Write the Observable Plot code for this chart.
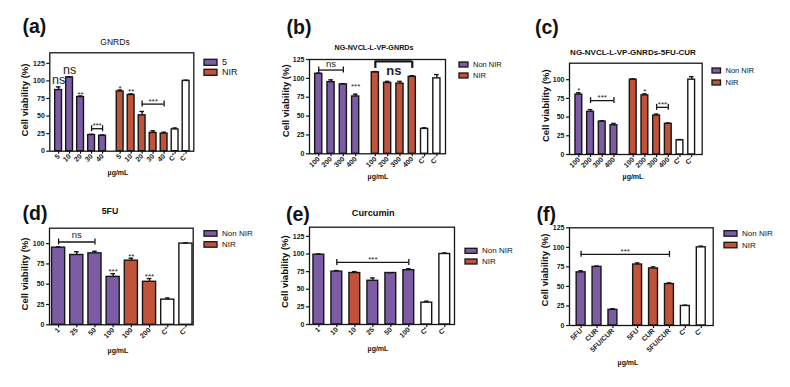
<!DOCTYPE html>
<html>
<head>
<meta charset="utf-8">
<script src="https://cdn.jsdelivr.net/npm/d3@7"></script>
<script src="https://cdn.jsdelivr.net/npm/@observablehq/plot@0.6"></script>
<style>
  html, body { margin: 0; padding: 0; background: #fff; }
  #fig { position: relative; width: 790px; height: 387px; overflow: hidden; }
  #fig svg { position: absolute; overflow: visible; }
</style>
</head>
<body>
<div id="fig"></div>
<script>
// ---------------- data ----------------
// (a) GNRDs
const aLabels = ["5", "10", "20", "30", "40", "5", "10", "20", "30", "40", "C⁺", "C⁻"];
const aSeries = ["Non NIR", "Non NIR", "Non NIR", "Non NIR", "Non NIR", "NIR", "NIR", "NIR", "NIR", "NIR", "Control", "Control"];
const aValues = [87, 105, 77, 23, 22, 85, 80, 51, 26, 25, 31, 100];
const aErrors = [4.5, 1, 1.5, 1, 1, 2, 1.5, 5.5, 3, 2, 2, 1];
const aStars = [{bar: 0, text: "ns"}, {bar: 1, text: "ns"}, {bar: 2, text: "**"}, {bar: 5, text: "*"}, {bar: 6, text: "**"}];
const aBrackets = [{from: 3, to: 4, level: 32, text: "***"}, {from: 7, to: 9, level: 67, text: "***"}];

// (b) NG-NVCL-L-VP-GNRDs
const bLabels = ["100", "200", "300", "400", "100", "200", "300", "400", "C⁺", "C⁻"];
const bSeries = ["Non NIR", "Non NIR", "Non NIR", "Non NIR", "NIR", "NIR", "NIR", "NIR", "Control", "Control"];
const bValues = [106, 95, 92, 76, 108, 94, 93, 102, 33, 100];
const bErrors = [1, 3, 1, 3, 1, 2, 3, 1.5, 1.5, 5];
const bStars = [{bar: 3, text: "***"}];
const bBrackets = [{from: 0, to: 2, level: 111, text: "ns"}, {from: 4, to: 7, level: 122.5, text: "ns"}];

// (c) NG-NVCL-L-VP-GNRDs-5FU-CUR
const cLabels = ["100", "200", "300", "400", "100", "200", "300", "400", "C⁺", "C⁻"];
const cSeries = ["Non NIR", "Non NIR", "Non NIR", "Non NIR", "NIR", "NIR", "NIR", "NIR", "Control", "Control"];
const cValues = [80, 57, 44, 39, 100, 79, 52, 41, 19, 100];
const cErrors = [2.5, 3, 1, 2.5, 1, 2, 2, 1, 1, 4];
const cStars = [{bar: 0, text: "*"}, {bar: 5, text: "*"}];
const cBrackets = [{from: 1, to: 3, level: 72, text: "***"}, {from: 6, to: 7, level: 63, text: "***"}];

// (d) 5FU
const dLabels = ["1", "25", "50", "100", "100", "200", "C⁺", "C⁻"];
const dSeries = ["Non NIR", "Non NIR", "Non NIR", "Non NIR", "NIR", "NIR", "Control", "Control"];
const dValues = [95, 86, 88, 59, 79, 53, 31, 100];
const dErrors = [1, 4, 2.5, 4, 3, 4, 2, 1];
const dStars = [{bar: 3, text: "***"}, {bar: 4, text: "**"}, {bar: 5, text: "***"}];
const dBrackets = [{from: 0, to: 2, level: 102, text: "ns"}];

// (e) Curcumin
const eLabels = ["1", "10", "10", "25", "50", "100", "C⁺", "C⁻"];
const eSeries = ["Non NIR", "Non NIR", "NIR", "Non NIR", "Non NIR", "Non NIR", "Control", "Control"];
const eValues = [99, 75, 73, 62, 73, 77, 31, 100];
const eErrors = [1, 1.5, 2, 4, 0.5, 2, 2, 1.5];
const eStars = [];
const eBrackets = [{from: 1, to: 5, level: 88, text: "***"}];

// (f) combinations
const fLabels = ["5FU", "CUR", "5FU/CUR", "5FU", "CUR", "5FU/CUR", "C⁺", "C⁻"];
const fSeries = ["Non NIR", "Non NIR", "Non NIR", "NIR", "NIR", "NIR", "Control", "Control"];
const fValues = [68, 75, 20, 78, 73, 53, 25, 100];
const fErrors = [2, 1, 1.5, 2, 2, 1.5, 1, 1.5];
const fStars = [];
const fBrackets = [{from: 0, to: 5, level: 91, text: "***"}];

// ---------------- look ----------------
const FONT = '"Liberation Sans", Arial, Helvetica, sans-serif';
const INK = "#161616";
const PURPLE = "#7d5ca6";
const RED = "#c1533b";
const colorScale = {domain: ["Non NIR", "NIR", "Control"], range: [PURPLE, RED, "#ffffff"]};

const star = {fontSize: 8, dy: -2};
const nsBig = {fontSize: 12.5, dy: -7};
const bracketStar = {fontSize: 8, dy: -3};
const bracketNs = {fontSize: 9.5, dy: -6};

// frame = [left, right, top, bottom] in page pixels; box = [x, y, width, height] of the svg
const panels = [
  {data: {labels: aLabels, series: aSeries, values: aValues, errors: aErrors, stars: aStars, brackets: aBrackets},
   box: [0, 0, 205, 190], frame: [49.3, 193.3, 52.3, 150.7], yMax: 140, yTicks: [0, 25, 50, 75, 100, 125],
   xDomain: [-0.8, 12.3], breakAt: 5, gap: 0.6, barHalf: 0.31,
   starStyles: [nsBig, nsBig, star, star, star], bracketStyles: [bracketStar, bracketStar]},
  {data: {labels: bLabels, series: bSeries, values: bValues, errors: bErrors, stars: bStars, brackets: bBrackets},
   box: [262, 0, 190, 190], frame: [309, 445, 59, 153.3], yMax: 125, yTicks: [0, 25, 50, 75, 100, 125],
   xDomain: [-0.75, 10.3], breakAt: 4, gap: 0.6, barHalf: 0.29,
   starStyles: [{fontSize: 8, dy: -8}],
   bracketStyles: [bracketNs, {fontSize: 13, fontWeight: "bold", dy: 9, strokeWidth: 2.2, down: 7}]},
  {data: {labels: cLabels, series: cSeries, values: cValues, errors: cErrors, stars: cStars, brackets: cBrackets},
   box: [522, 0, 185, 190], frame: [569, 701.7, 62.7, 154], yMax: 122, yTicks: [0, 25, 50, 75, 100],
   xDomain: [-0.8, 10.55], breakAt: 4, gap: 0.65, barHalf: 0.29,
   starStyles: [star, star], bracketStyles: [bracketStar, bracketStar]},
  {data: {labels: dLabels, series: dSeries, values: dValues, errors: dErrors, stars: dStars, brackets: dBrackets},
   box: [0, 192, 200, 195], frame: [49, 192.7, 227.7, 324.3], yMax: 119, yTicks: [0, 25, 50, 75, 100],
   xDomain: [-0.5, 7.4], breakAt: null, gap: 0, barHalf: 0.36,
   starStyles: [star, star, star], bracketStyles: [{fontSize: 9.5, dy: -7}]},
  {data: {labels: eLabels, series: eSeries, values: eValues, errors: eErrors, stars: eStars, brackets: eBrackets},
   box: [262, 192, 197, 195], frame: [309, 454, 226.7, 324], yMax: 138, yTicks: [0, 25, 50, 75, 100, 125],
   xDomain: [-0.52, 7.54], breakAt: null, gap: 0, barHalf: 0.3,
   starStyles: [], bracketStyles: [bracketStar]},
  {data: {labels: fLabels, series: fSeries, values: fValues, errors: fErrors, stars: fStars, brackets: fBrackets},
   box: [522, 192, 196, 195], frame: [569, 712.7, 227.3, 325], yMax: 125, yTicks: [0, 25, 50, 75, 100, 125],
   xDomain: [-0.73, 8.3], breakAt: 3, gap: 0.55, barHalf: 0.28,
   starStyles: [], bracketStyles: [bracketStar]}
];

const fig = document.getElementById("fig");

function drawPanel(P) {
  const D = P.data;
  const [fl, fr, ft, fb] = P.frame;
  const [ox, oy, w, h] = P.box;
  const slots = D.values.map((_, i) => i + (P.breakAt != null && i >= P.breakAt ? P.gap : 0));
  const rows = D.values.map((v, i) => ({slot: slots[i], value: v, err: D.errors[i], series: D.series[i]}));
  const labelOf = new Map(slots.map((s, i) => [s, D.labels[i]]));
  const pxPerSlot = (fr - fl) / (P.xDomain[1] - P.xDomain[0]);
  const pxPerUnit = (fb - ft) / P.yMax;
  const capX = 2.3 / pxPerSlot;
  const capY = 3 / pxPerUnit;
  const hw = P.barHalf;

  const marks = [
    Plot.rect(rows, {x1: r => r.slot - hw, x2: r => r.slot + hw, y1: 0, y2: "value",
      fill: "series", stroke: INK, strokeWidth: 1.4}),
    Plot.ruleX(rows, {x: "slot", y1: "value", y2: r => r.value + r.err, stroke: INK, strokeWidth: 1.4}),
    Plot.ruleY(rows, {x1: r => r.slot - capX, x2: r => r.slot + capX, y: r => r.value + r.err, stroke: INK, strokeWidth: 1.4}),
    Plot.frame({stroke: INK, strokeWidth: 1.3}),
    Plot.axisY({ticks: P.yTicks, tickSize: 3, tickPadding: 2, label: null, stroke: INK, strokeWidth: 1.2}),
    Plot.axisX({ticks: slots, tickFormat: s => labelOf.get(s), tickRotate: -45, tickSize: 3, tickPadding: 1,
      label: null, stroke: INK, strokeWidth: 1.2})
  ];

  D.stars.forEach((s, i) => {
    const st = P.starStyles[i] || star;
    marks.push(Plot.text([s], {x: slots[s.bar], y: D.values[s.bar] + D.errors[s.bar], text: "text",
      dy: st.dy, fontSize: st.fontSize, fontWeight: "normal", fill: "#222"}));
  });

  D.brackets.forEach((b, i) => {
    const st = P.bracketStyles[i] || bracketStar;
    const x1 = slots[b.from], x2 = slots[b.to];
    const sw = st.strokeWidth || 1.3;
    const y1 = st.down ? b.level - st.down / pxPerUnit : b.level - capY;
    const y2 = st.down ? b.level : b.level + capY;
    marks.push(
      Plot.ruleY([b], {x1: x1, x2: x2, y: "level", stroke: INK, strokeWidth: sw}),
      Plot.ruleX([x1, x2], {x: d => d, y1: y1, y2: y2, stroke: INK, strokeWidth: sw}),
      Plot.text([b], {x: (x1 + x2) / 2, y: "level", text: "text", dy: st.dy, fontSize: st.fontSize,
        fontWeight: st.fontWeight || "normal", fill: "#222"})
    );
  });

  const svg = Plot.plot({
    width: w, height: h,
    marginLeft: fl - ox, marginRight: ox + w - fr,
    marginTop: ft - oy, marginBottom: oy + h - fb,
    x: {type: "linear", domain: P.xDomain},
    y: {domain: [0, P.yMax]},
    color: colorScale,
    style: {fontFamily: FONT, fontSize: "7px", fontWeight: "bold", background: "transparent", color: INK},
    marks
  });
  svg.style.left = ox + "px";
  svg.style.top = oy + "px";
  fig.appendChild(svg);
}

panels.forEach(drawPanel);

// ---------------- panel letters, titles, legends, axis titles ----------------
const letters = [
  {text: "(a)", x: 22.5, y: 33},
  {text: "(b)", x: 286.5, y: 34},
  {text: "(c)", x: 535, y: 34},
  {text: "(d)", x: 22.5, y: 220},
  {text: "(e)", x: 286, y: 221},
  {text: "(f)", x: 536.5, y: 220.5}
];
const titles = [
  {text: "GNRDs", x: 115, y: 45, size: 8.5, weight: "normal"},
  {text: "NG-NVCL-L-VP-GNRDs", x: 374, y: 50, size: 7.2, weight: "bold"},
  {text: "NG-NVCL-L-VP-GNRDs-5FU-CUR", x: 633, y: 54.5, size: 8, weight: "bold"},
  {text: "5FU", x: 110, y: 214, size: 8.8, weight: "bold"},
  {text: "Curcumin", x: 373.3, y: 215.5, size: 9.2, weight: "bold"}
];
const legends = [
  {x: 204, y: 59.3, w: 13, h: 6, step: 10, size: 9, names: ["5", "NIR"]},
  {x: 459, y: 62, w: 9, h: 5, step: 11, size: 7.5, names: ["Non NIR", "NIR"]},
  {x: 712, y: 68, w: 8.5, h: 5, step: 12, size: 7.5, names: ["Non NIR", "NIR"]},
  {x: 204, y: 230.7, w: 13, h: 5.5, step: 11, size: 8, names: ["Non NIR", "NIR"]},
  {x: 465, y: 248.3, w: 12, h: 5, step: 10.7, size: 8, names: ["Non NIR", "NIR"]},
  {x: 724, y: 230.7, w: 13, h: 5.5, step: 11.6, size: 8, names: ["Non NIR", "NIR"]}
];
const yTitles = [[24.7, 100], [285, 100.8], [545, 105.7], [24, 274], [284, 271.7], [544, 270]];
const xTitles = [[118, 175], [378, 179], [633, 179], [118, 353], [378, 351], [628, 365]];

const over = d3.select(fig).append("svg")
  .attr("width", 790).attr("height", 387)
  .style("left", "0px").style("top", "0px")
  .style("font-family", FONT);

over.selectAll("text.letter").data(letters).join("text")
  .attr("class", "letter").attr("x", d => d.x).attr("y", d => d.y)
  .attr("font-size", 19.5).attr("font-weight", "bold").attr("fill", "#111").text(d => d.text);

over.selectAll("text.title").data(titles).join("text")
  .attr("class", "title").attr("x", d => d.x).attr("y", d => d.y).attr("text-anchor", "middle")
  .attr("font-size", d => d.size).attr("font-weight", d => d.weight).attr("fill", "#111").text(d => d.text);

legends.forEach(L => {
  L.names.forEach((name, i) => {
    over.append("rect").attr("x", L.x).attr("y", L.y + i * L.step).attr("width", L.w).attr("height", L.h)
      .attr("fill", colorScale.range[i]).attr("stroke", INK).attr("stroke-width", 1.3);
    over.append("text").attr("x", L.x + L.w + 5).attr("y", L.y + i * L.step + L.h / 2)
      .attr("dominant-baseline", "central").attr("font-size", L.size).attr("fill", "#111").text(name);
  });
});

over.selectAll("text.ytitle").data(yTitles).join("text")
  .attr("class", "ytitle").attr("transform", d => `translate(${d[0]},${d[1]}) rotate(-90)`)
  .attr("text-anchor", "middle").attr("dominant-baseline", "central")
  .attr("font-size", 9.5).attr("font-weight", "bold").attr("fill", "#111").text("Cell viability (%)");

over.selectAll("text.xtitle").data(xTitles).join("text")
  .attr("class", "xtitle").attr("x", d => d[0]).attr("y", d => d[1]).attr("text-anchor", "middle")
  .attr("font-size", 7).attr("font-weight", "bold").attr("fill", "#111").text("µg/mL");
</script>
</body>
</html>
